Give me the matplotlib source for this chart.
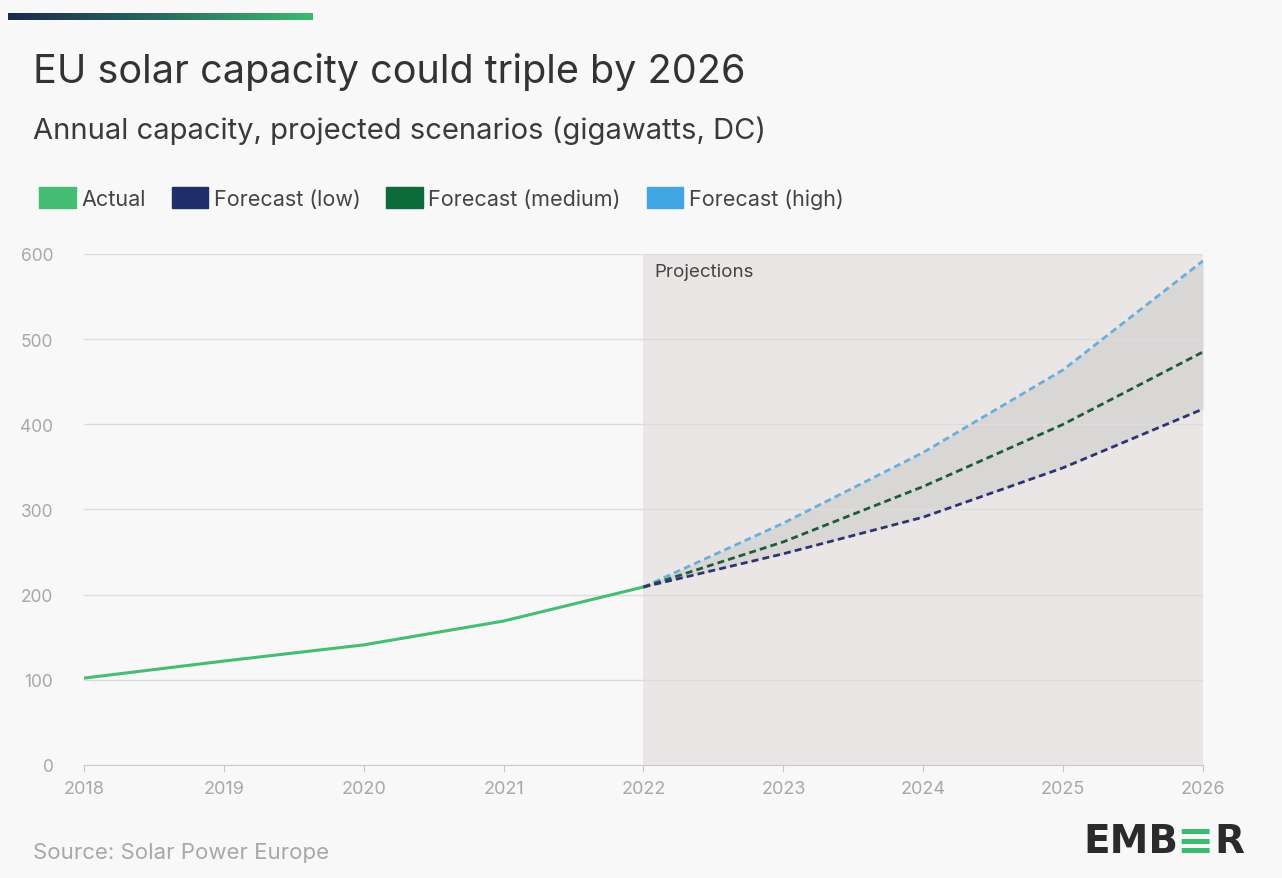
import numpy as np
import matplotlib.pyplot as plt
from matplotlib.patches import Patch
from matplotlib.colors import LinearSegmentedColormap

plt.rcParams['font.family'] = ['Inter', 'DejaVu Sans']

years = [2018, 2019, 2020, 2021, 2022]
actual = [102, 122, 141, 169, 209]

fc_years = [2022, 2023, 2024, 2025, 2026]
fc_low = [209, 248, 291, 349, 418]
fc_medium = [209, 262, 327, 400, 485]
fc_high = [209, 284, 367, 464, 592]

tick_years = list(range(2018, 2027))
y_ticks = [0, 100, 200, 300, 400, 500, 600]

bg = '#f8f8f8'
c_actual = '#45bd74'
c_low = '#1f2f6b'
c_medium = '#0d6a3b'
c_high = '#40a6e4'

fig = plt.figure(figsize=(12.82, 8.79), dpi=100, facecolor=bg)
ax = fig.add_axes([0.0655, 0.1286, 0.8729, 0.5813])
ax.set_facecolor(bg)

# projection shading
ax.axvspan(2022, 2026, color='#e9e6e5', zorder=0, lw=0)
ax.fill_between(fc_years, fc_low, fc_high, color='#d9d6d6', zorder=1, lw=0)

for v in y_ticks[1:]:
    ax.axhline(v, color='#dcdcdc', lw=1, zorder=1.5)

ax.plot(years, actual, color=c_actual, lw=2.2, zorder=3)
ax.plot(fc_years, fc_high, color='#6aaedb', lw=2, ls=(0, (2.5, 1.5)), zorder=3)
ax.plot(fc_years, fc_medium, color='#1f5a3b', lw=2, ls=(0, (2.5, 1.5)), zorder=3)
ax.plot(fc_years, fc_low, color='#2e3470', lw=2, ls=(0, (2.5, 1.5)), zorder=3)

ax.text(2022.08, 580, 'Projections', fontsize=13.5, color='#444444', va='center')

ax.set_xlim(2018, 2026)
ax.set_ylim(0, 600)
ax.set_xticks(tick_years)
ax.set_xticklabels([str(y) for y in tick_years], fontsize=13, color='#a8a8a8')
ax.set_yticks(y_ticks)
ax.set_yticklabels([str(v) for v in y_ticks], fontsize=12.5, color='#a8a8a8')
ax.tick_params(axis='y', length=0, pad=22)
ax.tick_params(axis='x', length=5, color='#c8c8c8', pad=6)
for s in ['top', 'right', 'left']:
    ax.spines[s].set_visible(False)
ax.spines['bottom'].set_color('#c8c8c8')

# top gradient bar
bar_ax = fig.add_axes([8 / 1282, 1 - 21 / 879, 305 / 1282, 7 / 879])
grad = np.linspace(0, 1, 256).reshape(1, -1)
cmap = LinearSegmentedColormap.from_list('bar', ['#1c2a4d', '#2a6a5e', '#3dba72'])
bar_ax.imshow(grad, aspect='auto', cmap=cmap)
bar_ax.axis('off')

fig.text(33 / 1282, 1 - 72 / 879, 'EU solar capacity could triple by 2026',
         fontsize=28.5, color='#333333', va='center')
fig.text(33 / 1282, 1 - 131 / 879, 'Annual capacity, projected scenarios (gigawatts, DC)',
         fontsize=21, color='#3a3a3a', va='center')

handles = [Patch(color=c_actual), Patch(color=c_low), Patch(color=c_medium), Patch(color=c_high)]
labels = ['Actual', 'Forecast (low)', 'Forecast (medium)', 'Forecast (high)']
fig.legend(handles, labels, loc='center left', bbox_to_anchor=(20 / 1282, 1 - 199 / 879),
           ncol=4, frameon=False, fontsize=15.5, handlelength=1.7, handleheight=1.1,
           handletextpad=0.25, columnspacing=1.2, labelcolor='#444444')

fig.text(33 / 1282, 1 - 853 / 879, 'Source: Solar Power Europe', fontsize=16,
         color='#a8a8a8', va='center')

# logo
fig.text(1083 / 1282, 1 - 842 / 879, 'EMB', fontsize=28, fontweight='bold',
         color='#2b2b2b', va='center', family='DejaVu Sans')
fig.text(1176 / 1282, 1 - 842 / 879, '\u2261', fontsize=32, fontweight='bold',
         color='#3dba72', va='center', family='DejaVu Sans')
fig.text(1214 / 1282, 1 - 842 / 879, 'R', fontsize=28, fontweight='bold',
         color='#2b2b2b', va='center', family='DejaVu Sans')

fig.savefig('out.png', dpi=100, facecolor=bg)
